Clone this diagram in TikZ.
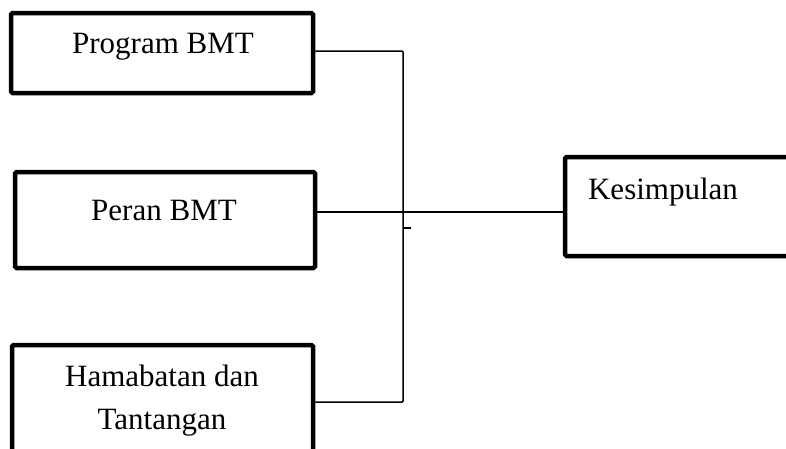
\documentclass[tikz,border=0pt]{standalone}
\usepackage{fontspec}
\setmainfont{Liberation Serif}
\begin{document}
\begin{tikzpicture}[x=1pt,y=-1pt,
  box/.style={draw,line width=4.5pt,rounded corners=1.5pt,inner sep=0pt},
  lbl/.style={font=\fontsize{31}{43}\selectfont,align=center,inner sep=0pt},
  conn/.style={line width=1.5pt}]
\useasboundingbox (0,0) rectangle (786,448);
\clip (0,0) rectangle (786,448);
\node[box,minimum width=302pt,minimum height=80pt] (b1) at (162,53) {};
\node[box,minimum width=300pt,minimum height=96pt] (b2) at (165,220) {};
\node[box,minimum width=301pt,minimum height=116pt] (b3) at (162.5,403) {};
\node[box,minimum width=250pt,minimum height=99pt] (k) at (690,206.5) {};
\node[lbl] (t1) at (163,47) {Program BMT};
\node[lbl] (t2) at (164,210) {Peran BMT};
\node[lbl] (t3) at (162,401) {Hamabatan dan\\Tantangan};
\node[lbl] (t4) at (663,192) {Kesimpulan};
\coordinate (j1) at (403,51);
\coordinate (j3) at (403,402);
\coordinate (tk) at (403,228);
\coordinate (tk2) at (411,228);
\draw[conn,rounded corners=1pt] (b1.east |- j1) -- (j1) -- (j3) -- (b3.east |- j3);
\draw[conn] (b2.east |- 0,212) -- (k.west |- 0,212);
\draw[conn] (tk) -- (tk2);
\end{tikzpicture}
\end{document}
